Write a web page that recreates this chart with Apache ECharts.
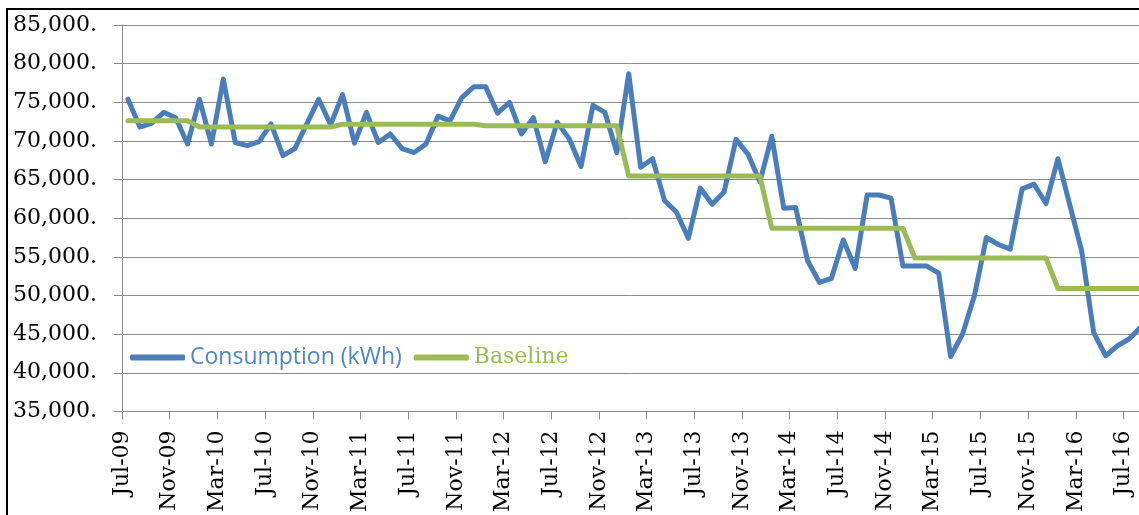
<!DOCTYPE html>
<html lang="en">

<head>
  <meta charset="UTF-8">
  <title>Consumption vs Baseline</title>
  <script src="https://cdn.jsdelivr.net/npm/echarts@6.0.0/dist/echarts.min.js"></script>
  <style>
    html, body { margin: 0; padding: 0; background: #fff; }
  </style>
</head>

<body>
  <div id="main" style="width: 1139px;height:515px;"></div>

  <script type="text/javascript">
    // Tick labels on the month axis, one every 4 months starting Jul-09
    const xTickLabels = ['Jul-09', 'Nov-09', 'Mar-10', 'Jul-10', 'Nov-10', 'Mar-11', 'Jul-11', 'Nov-11',
      'Mar-12', 'Jul-12', 'Nov-12', 'Mar-13', 'Jul-13', 'Nov-13', 'Mar-14', 'Jul-14', 'Nov-14',
      'Mar-15', 'Jul-15', 'Nov-15', 'Mar-16', 'Jul-16'];

    // Monthly consumption in kWh, Jul-09 onwards
    const consumption = [
      75400, 71800, 72300, 73700, 73000, 69600,   // Jul-09 .. Dec-09
      75400, 69600, 78000, 69800, 69400, 69900, 72200, 68100, 69000, 72200, 75400, 72100, // 2010
      76000, 69700, 73700, 69800, 70900, 69000, 68500, 69600, 73200, 72600, 75600, 77000, // 2011
      77000, 73600, 75000, 70900, 73000, 67300, 72400, 70300, 66700, 74600, 73700, 68500, // 2012
      78700, 66600, 67700, 62300, 60800, 57400, 63900, 61800, 63400, 70200, 68300, 64700, // 2013
      70600, 61300, 61400, 54500, 51700, 52200, 57200, 53500, 63000, 63000, 62600, 53800, // 2014
      53800, 53800, 52900, 42100, 45000, 50000, 57500, 56600, 56000, 63800, 64400, 61900, // 2015
      67700, 61700, 55700, 45200, 42200, 43500, 44400, 46000                               // 2016
    ];

    // Yearly baseline in kWh, same months
    const baseline = [
      72600, 72600, 72600, 72600, 72600, 72600,
      71800, 71800, 71800, 71800, 71800, 71800, 71800, 71800, 71800, 71800, 71800, 71800,
      72150, 72150, 72150, 72150, 72150, 72150, 72150, 72150, 72150, 72150, 72150, 72150,
      71950, 71950, 71950, 71950, 71950, 71950, 71950, 71950, 71950, 71950, 71950, 71950,
      65450, 65450, 65450, 65450, 65450, 65450, 65450, 65450, 65450, 65450, 65450, 65450,
      58700, 58700, 58700, 58700, 58700, 58700, 58700, 58700, 58700, 58700, 58700, 58700,
      54850, 54850, 54850, 54850, 54850, 54850, 54850, 54850, 54850, 54850, 54850, 54850,
      50900, 50900, 50900, 50900, 50900, 50900, 50900, 50900
    ];

    // readings sit mid-month, half a unit right of the month tick
    const monthOffset = 0.5;
    const toPoints = arr => arr.map((v, i) => [i + monthOffset, v]);

    const serif = 'DejaVu Serif';
    const blue = '#4a7ebb';
    const green = '#9bbb59';

    let myChart = echarts.init(document.getElementById('main'));

    const options = {
      animation: false,
      backgroundColor: '#fff',
      grid: { left: 122, right: 0, top: 25, bottom: 100, containLabel: false },
      legend: {
        left: 130,
        top: 346,
        padding: 0,
        itemWidth: 55,
        itemHeight: 6,
        itemGap: 12,
        icon: 'roundRect',
        data: [
          { name: 'Consumption (kWh)', textStyle: { color: '#4f86c6', fontFamily: 'Open Sans', fontSize: 23 } },
          { name: 'Baseline', textStyle: { color: green, fontFamily: serif, fontSize: 22 } }
        ]
      },
      xAxis: {
        type: 'value',
        min: 0,
        max: 85.3,
        interval: 4,
        axisLine: { onZero: false, lineStyle: { color: '#8a8a8a', width: 1 } },
        axisTick: { show: true, inside: false, length: 8, lineStyle: { color: '#8a8a8a' } },
        splitLine: { show: false },
        axisLabel: {
          rotate: 90,
          margin: 19,
          showMaxLabel: false,
          color: '#000',
          fontFamily: serif,
          fontSize: 22,
          formatter: v => (v % 4 === 0 && xTickLabels[v / 4]) ? xTickLabels[v / 4] : ''
        }
      },
      yAxis: {
        type: 'value',
        min: 35000,
        max: 85000,
        interval: 5000,
        axisLine: { show: true, lineStyle: { color: '#8a8a8a', width: 1 } },
        axisTick: { show: true, length: 8, lineStyle: { color: '#8a8a8a' } },
        splitLine: { show: true, lineStyle: { color: '#8a8a8a', width: 1 } },
        axisLabel: {
          margin: 25,
          color: '#000',
          fontFamily: serif,
          fontSize: 22,
          formatter: v => String(v).replace(/\B(?=(\d{3})+(?!\d))/g, ',') + '.'
        }
      },
      graphic: [{
        type: 'rect',
        shape: { x: 7, y: 9, width: 1400, height: 800 },
        style: { fill: null, stroke: '#000', lineWidth: 2 },
        silent: true,
        z: 100
      }],
      series: [
        {
          name: 'Consumption (kWh)',
          type: 'line',
          data: toPoints(consumption),
          showSymbol: false,
          color: blue,
          lineStyle: { color: blue, width: 5, cap: 'round', join: 'round' }
        },
        {
          name: 'Baseline',
          type: 'line',
          data: toPoints(baseline),
          showSymbol: false,
          color: green,
          lineStyle: { color: green, width: 5, cap: 'round', join: 'round' }
        }
      ]
    };

    myChart.setOption(options);
  </script>
</body>

</html>
